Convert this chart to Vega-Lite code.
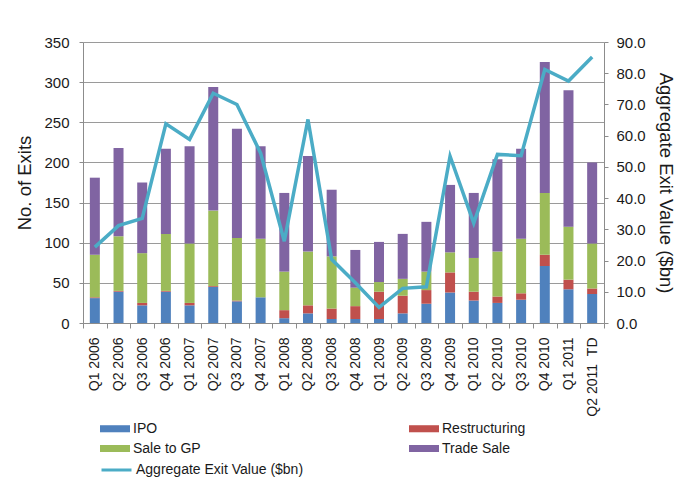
{
  "$schema": "https://vega.github.io/schema/vega-lite/v6.json",
  "autosize": {"type": "none"},
  "padding": {"left": 83, "top": 42, "right": 83, "bottom": 166},
  "width": 521,
  "height": 281,
  "background": "white",
  "config": {
    "font": "Liberation Sans",
    "view": {"stroke": null},
    "axis": {
      "labelFont": "Liberation Sans",
      "titleFont": "Liberation Sans",
      "labelColor": "#1a1a1a",
      "titleColor": "#1a1a1a",
      "domainColor": "#8c8c8c",
      "tickColor": "#8c8c8c",
      "gridColor": "#9a9a9a",
      "titleFontWeight": "normal"
    },
    "legend": {
      "labelFont": "Liberation Sans",
      "labelFontSize": 14,
      "labelColor": "#1a1a1a",
      "labelLimit": 400,
      "padding": 0
    }
  },
  "datasets": {
    "bars": [
      {"q": "Q1 2006", "type": "IPO", "n": 31}, {"q": "Q1 2006", "type": "Restructuring", "n": 1}, {"q": "Q1 2006", "type": "Sale to GP", "n": 53}, {"q": "Q1 2006", "type": "Trade Sale", "n": 96},
      {"q": "Q2 2006", "type": "IPO", "n": 39}, {"q": "Q2 2006", "type": "Restructuring", "n": 1}, {"q": "Q2 2006", "type": "Sale to GP", "n": 68}, {"q": "Q2 2006", "type": "Trade Sale", "n": 110},
      {"q": "Q3 2006", "type": "IPO", "n": 22}, {"q": "Q3 2006", "type": "Restructuring", "n": 3}, {"q": "Q3 2006", "type": "Sale to GP", "n": 62}, {"q": "Q3 2006", "type": "Trade Sale", "n": 88},
      {"q": "Q4 2006", "type": "IPO", "n": 39}, {"q": "Q4 2006", "type": "Restructuring", "n": 1}, {"q": "Q4 2006", "type": "Sale to GP", "n": 71}, {"q": "Q4 2006", "type": "Trade Sale", "n": 106},
      {"q": "Q1 2007", "type": "IPO", "n": 22}, {"q": "Q1 2007", "type": "Restructuring", "n": 3}, {"q": "Q1 2007", "type": "Sale to GP", "n": 74}, {"q": "Q1 2007", "type": "Trade Sale", "n": 121},
      {"q": "Q2 2007", "type": "IPO", "n": 45}, {"q": "Q2 2007", "type": "Restructuring", "n": 1}, {"q": "Q2 2007", "type": "Sale to GP", "n": 94}, {"q": "Q2 2007", "type": "Trade Sale", "n": 154},
      {"q": "Q3 2007", "type": "IPO", "n": 27}, {"q": "Q3 2007", "type": "Restructuring", "n": 1}, {"q": "Q3 2007", "type": "Sale to GP", "n": 78}, {"q": "Q3 2007", "type": "Trade Sale", "n": 136},
      {"q": "Q4 2007", "type": "IPO", "n": 32}, {"q": "Q4 2007", "type": "Restructuring", "n": 0}, {"q": "Q4 2007", "type": "Sale to GP", "n": 73}, {"q": "Q4 2007", "type": "Trade Sale", "n": 115},
      {"q": "Q1 2008", "type": "IPO", "n": 6}, {"q": "Q1 2008", "type": "Restructuring", "n": 10}, {"q": "Q1 2008", "type": "Sale to GP", "n": 48}, {"q": "Q1 2008", "type": "Trade Sale", "n": 98},
      {"q": "Q2 2008", "type": "IPO", "n": 12}, {"q": "Q2 2008", "type": "Restructuring", "n": 10}, {"q": "Q2 2008", "type": "Sale to GP", "n": 67}, {"q": "Q2 2008", "type": "Trade Sale", "n": 119},
      {"q": "Q3 2008", "type": "IPO", "n": 5}, {"q": "Q3 2008", "type": "Restructuring", "n": 13}, {"q": "Q3 2008", "type": "Sale to GP", "n": 65}, {"q": "Q3 2008", "type": "Trade Sale", "n": 83},
      {"q": "Q4 2008", "type": "IPO", "n": 5}, {"q": "Q4 2008", "type": "Restructuring", "n": 16}, {"q": "Q4 2008", "type": "Sale to GP", "n": 23}, {"q": "Q4 2008", "type": "Trade Sale", "n": 47},
      {"q": "Q1 2009", "type": "IPO", "n": 5}, {"q": "Q1 2009", "type": "Restructuring", "n": 34}, {"q": "Q1 2009", "type": "Sale to GP", "n": 12}, {"q": "Q1 2009", "type": "Trade Sale", "n": 50},
      {"q": "Q2 2009", "type": "IPO", "n": 12}, {"q": "Q2 2009", "type": "Restructuring", "n": 22}, {"q": "Q2 2009", "type": "Sale to GP", "n": 21}, {"q": "Q2 2009", "type": "Trade Sale", "n": 56},
      {"q": "Q3 2009", "type": "IPO", "n": 24}, {"q": "Q3 2009", "type": "Restructuring", "n": 17}, {"q": "Q3 2009", "type": "Sale to GP", "n": 23}, {"q": "Q3 2009", "type": "Trade Sale", "n": 62},
      {"q": "Q4 2009", "type": "IPO", "n": 38}, {"q": "Q4 2009", "type": "Restructuring", "n": 25}, {"q": "Q4 2009", "type": "Sale to GP", "n": 25}, {"q": "Q4 2009", "type": "Trade Sale", "n": 84},
      {"q": "Q1 2010", "type": "IPO", "n": 28}, {"q": "Q1 2010", "type": "Restructuring", "n": 11}, {"q": "Q1 2010", "type": "Sale to GP", "n": 42}, {"q": "Q1 2010", "type": "Trade Sale", "n": 81},
      {"q": "Q2 2010", "type": "IPO", "n": 25}, {"q": "Q2 2010", "type": "Restructuring", "n": 8}, {"q": "Q2 2010", "type": "Sale to GP", "n": 56}, {"q": "Q2 2010", "type": "Trade Sale", "n": 115},
      {"q": "Q3 2010", "type": "IPO", "n": 29}, {"q": "Q3 2010", "type": "Restructuring", "n": 8}, {"q": "Q3 2010", "type": "Sale to GP", "n": 68}, {"q": "Q3 2010", "type": "Trade Sale", "n": 112},
      {"q": "Q4 2010", "type": "IPO", "n": 71}, {"q": "Q4 2010", "type": "Restructuring", "n": 14}, {"q": "Q4 2010", "type": "Sale to GP", "n": 77}, {"q": "Q4 2010", "type": "Trade Sale", "n": 163},
      {"q": "Q1 2011", "type": "IPO", "n": 42}, {"q": "Q1 2011", "type": "Restructuring", "n": 12}, {"q": "Q1 2011", "type": "Sale to GP", "n": 66}, {"q": "Q1 2011", "type": "Trade Sale", "n": 170},
      {"q": "Q2 2011\u00a0\u00a0TD", "type": "IPO", "n": 36}, {"q": "Q2 2011\u00a0\u00a0TD", "type": "Restructuring", "n": 7}, {"q": "Q2 2011\u00a0\u00a0TD", "type": "Sale to GP", "n": 56}, {"q": "Q2 2011\u00a0\u00a0TD", "type": "Trade Sale", "n": 101}
    ],
    "line": [
      {"q": "Q1 2006", "series": "Aggregate Exit Value ($bn)", "v": 24.3},
      {"q": "Q2 2006", "series": "Aggregate Exit Value ($bn)", "v": 31.2},
      {"q": "Q3 2006", "series": "Aggregate Exit Value ($bn)", "v": 33.5},
      {"q": "Q4 2006", "series": "Aggregate Exit Value ($bn)", "v": 63.8},
      {"q": "Q1 2007", "series": "Aggregate Exit Value ($bn)", "v": 58.8},
      {"q": "Q2 2007", "series": "Aggregate Exit Value ($bn)", "v": 73.6},
      {"q": "Q3 2007", "series": "Aggregate Exit Value ($bn)", "v": 70.0},
      {"q": "Q4 2007", "series": "Aggregate Exit Value ($bn)", "v": 54.4},
      {"q": "Q1 2008", "series": "Aggregate Exit Value ($bn)", "v": 26.2},
      {"q": "Q2 2008", "series": "Aggregate Exit Value ($bn)", "v": 65.2},
      {"q": "Q3 2008", "series": "Aggregate Exit Value ($bn)", "v": 20.4},
      {"q": "Q4 2008", "series": "Aggregate Exit Value ($bn)", "v": 12.9},
      {"q": "Q1 2009", "series": "Aggregate Exit Value ($bn)", "v": 5.0},
      {"q": "Q2 2009", "series": "Aggregate Exit Value ($bn)", "v": 11.1},
      {"q": "Q3 2009", "series": "Aggregate Exit Value ($bn)", "v": 11.6},
      {"q": "Q4 2009", "series": "Aggregate Exit Value ($bn)", "v": 53.4},
      {"q": "Q1 2010", "series": "Aggregate Exit Value ($bn)", "v": 32.0},
      {"q": "Q2 2010", "series": "Aggregate Exit Value ($bn)", "v": 54.0},
      {"q": "Q3 2010", "series": "Aggregate Exit Value ($bn)", "v": 53.6},
      {"q": "Q4 2010", "series": "Aggregate Exit Value ($bn)", "v": 81.2},
      {"q": "Q1 2011", "series": "Aggregate Exit Value ($bn)", "v": 77.5},
      {"q": "Q2 2011\u00a0\u00a0TD", "series": "Aggregate Exit Value ($bn)", "v": 85.2}
    ]
  },
  "encoding": {
    "x": {
      "field": "q",
      "type": "nominal",
      "sort": null,
      "scale": {"paddingInner": 0, "paddingOuter": 0},
      "axis": {
        "title": null,
        "labelAngle": -90,
        "labelFontSize": 14,
        "tickBand": "extent",
        "tickSize": 5,
        "labelPadding": 9,
        "grid": false
      }
    }
  },
  "layer": [
    {
      "data": {"name": "bars"},
      "mark": {"type": "bar", "size": 10},
      "encoding": {
        "y": {
          "field": "n",
          "type": "quantitative",
          "stack": "zero",
          "scale": {"domain": [0, 350], "nice": false},
          "axis": {
            "title": "No. of Exits",
            "titleFontSize": 18.5,
            "titlePadding": 9,
            "labelFontSize": 15,
            "values": [0, 50, 100, 150, 200, 250, 300, 350],
            "tickSize": 4,
            "labelPadding": 10,
            "grid": true
          }
        },
        "color": {
          "field": "type",
          "type": "nominal",
          "scale": {
            "domain": ["IPO", "Restructuring", "Sale to GP", "Trade Sale"],
            "range": ["#4F81BD", "#C0504D", "#9BBB59", "#8064A2"]
          },
          "legend": {
            "title": null,
            "orient": "none",
            "direction": "horizontal",
            "legendX": 17,
            "legendY": 379,
            "columns": 2,
            "columnPadding": 208,
            "rowPadding": 5,
            "symbolType": "M-1,-0.47L3,-0.47L3,0.47L-1,0.47Z",
            "symbolSize": 225,
            "symbolStrokeWidth": 0,
            "labelOffset": 18
          }
        },
        "order": {"field": "type", "sort": "ascending"}
      }
    },
    {
      "data": {"name": "line"},
      "mark": {"type": "line", "strokeWidth": 3.5},
      "encoding": {
        "y": {
          "field": "v",
          "type": "quantitative",
          "scale": {"domain": [0, 90], "nice": false},
          "axis": {
            "orient": "right",
            "title": "Aggregate Exit Value ($bn)",
            "titleFontSize": 18.5,
            "titlePadding": 10,
            "labelFontSize": 15,
            "format": ".1f",
            "values": [0, 10, 20, 30, 40, 50, 60, 70, 80, 90],
            "tickSize": 4,
            "labelPadding": 8,
            "grid": false
          }
        },
        "stroke": {
          "field": "series",
          "type": "nominal",
          "scale": {"range": ["#4BACC6"]},
          "legend": {
            "title": null,
            "orient": "none",
            "legendX": 17,
            "legendY": 419,
            "symbolType": "M-1,0L3,0",
            "symbolSize": 225,
            "symbolStrokeWidth": 3,
            "labelOffset": 18,
            "labelLimit": 400
          }
        }
      }
    }
  ],
  "resolve": {"scale": {"y": "independent"}}
}
